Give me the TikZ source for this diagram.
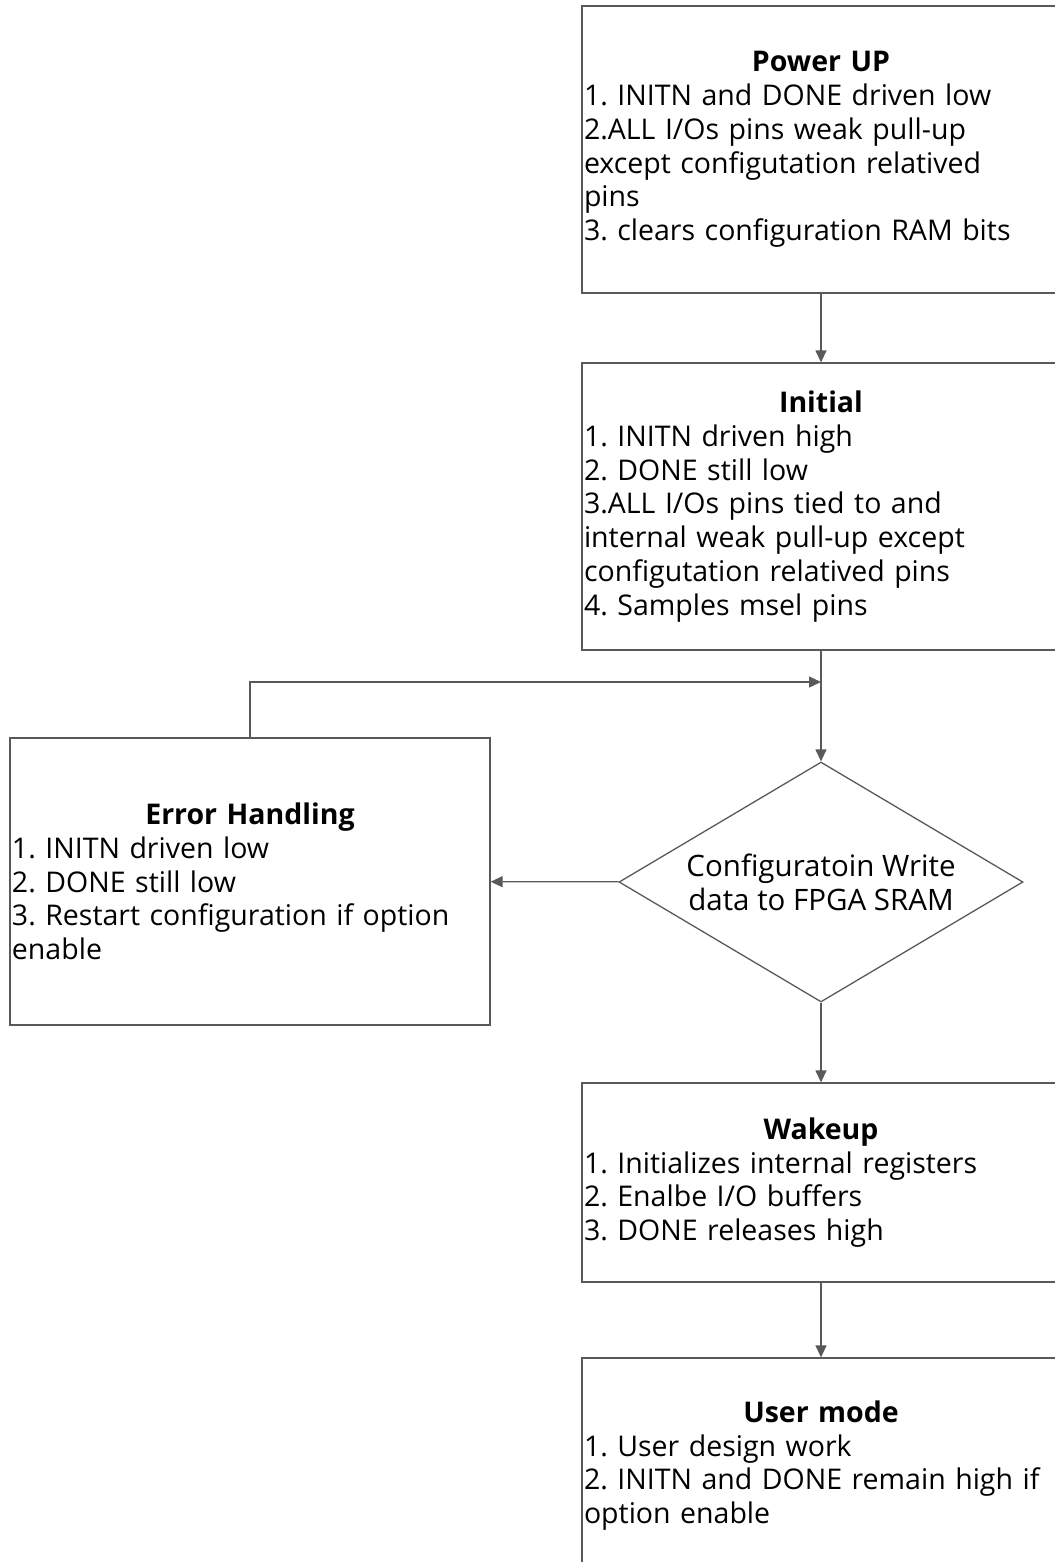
\documentclass[tikz,border=0pt]{standalone}
\usepackage{fontspec}
\setmainfont{Open Sans}
\usetikzlibrary{arrows.meta,shapes.geometric}

\newcommand{\boxtitle}[1]{\hfill\textbf{#1}\hfill\mbox{}\\}
\frenchspacing

\begin{document}
\begin{tikzpicture}[x=1pt, y=-1pt,
		line/.style={draw=black!65, line width=1.3pt},
		arrow/.style={line, -{Triangle[length=12pt, width=11pt]}},
		stagebox/.style={line, rectangle, minimum width=478pt, text width=474pt, inner sep=2pt, align=left,
			font=\fontsize{28.5}{33.8}\selectfont},
		decision/.style={line, diamond, aspect=1.68, inner sep=0pt, minimum width=404pt, minimum height=240pt,
			align=center, font=\fontsize{29.5}{34}\selectfont}]
	\useasboundingbox (0,0) rectangle (1054,1562);

	% Блоки
	\node[stagebox, minimum height=287pt] (power) at (821,149.5) {\boxtitle{Power UP}1. INITN and DONE driven low\\2.ALL I/Os pins weak pull-up\\except configutation relatived\\pins\\3. clears configuration RAM bits};
	\node[stagebox, minimum height=287pt] (init) at (821,506.5) {\boxtitle{Initial}1. INITN driven high\\2. DONE still low\\3.ALL I/Os pins tied to and\\internal weak pull-up except\\configutation relatived pins\\4. Samples msel pins};
	\node[decision] (config) at (821,882) {Configuratoin Write\\data to FPGA SRAM};
	\node[stagebox, minimum width=480pt, text width=476pt, minimum height=287pt] (error) at (250,881.5) {\boxtitle{Error Handling}1. INITN driven low\\2. DONE still low\\3. Restart configuration if option\\enable};
	\node[stagebox, minimum height=199pt] (wake) at (821,1182.5) {\boxtitle{Wakeup}1. Initializes internal registers\\2. Enalbe I/O buffers\\3. DONE releases high};
	\node[stagebox, minimum height=215pt] (user) at (821,1465.5) {\boxtitle{User mode}1. User design work\\2. INITN and DONE remain high if\\option enable};

	% Стрелки
	\coordinate (retry) at (821,682);
	\draw[arrow] (power) -- (init);
	\draw[line] (init) -- (retry);
	\draw[arrow] (retry) -- (config);
	\draw[arrow] (error.north) |- (retry);
	\draw[arrow] (config) -- (error);
	\draw[arrow] (config) -- (wake);
	\draw[arrow] (wake) -- (user);
\end{tikzpicture}
\end{document}
